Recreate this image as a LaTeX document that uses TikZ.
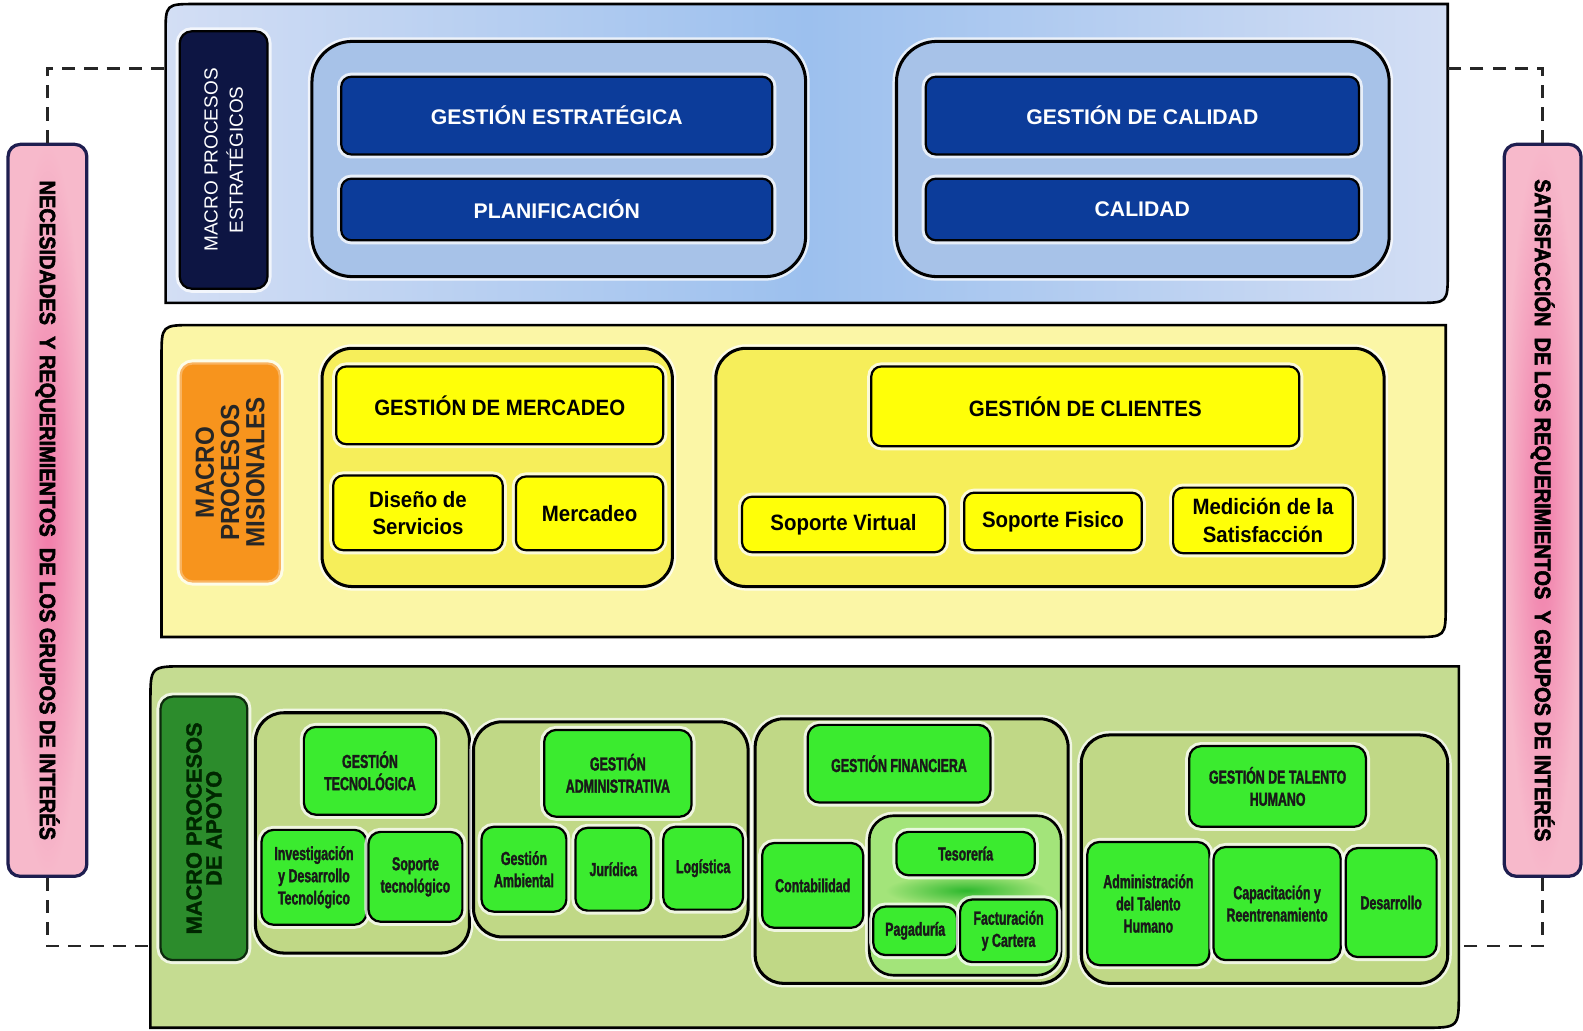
\documentclass[tikz,border=0pt]{standalone}
\usepackage{fontspec}
\setmainfont{Liberation Sans}
\newfontfamily\anchafont[FakeStretch=0.92]{Liberation Sans}
\newfontfamily\estrechafont[FakeStretch=0.66,BoldFeatures={FakeBold=1.6}]{Liberation Sans}
\newfontfamily\ladofont[FakeStretch=0.9,BoldFeatures={FakeBold=2.5}]{Liberation Sans}
\newfontfamily\apoyofont[BoldFeatures={FakeBold=1.5}]{Liberation Sans}

\definecolor{azulclaro}{HTML}{D3DEF4}
\definecolor{azulmedio}{HTML}{9CC0EE}
\definecolor{azulgrupo}{HTML}{A7C2E8}
\definecolor{azulcaja}{HTML}{0C3C9A}
\definecolor{azulnoche}{HTML}{0D1543}
\definecolor{amarillofondo}{HTML}{FBF6A6}
\definecolor{amarillogrupo}{HTML}{F6EE5A}
\definecolor{amarillocaja}{HTML}{FFFF08}
\definecolor{naranja}{HTML}{F7941D}
\definecolor{verdefondo}{HTML}{C5DC91}
\definecolor{verdegrupo}{HTML}{C0D886}
\definecolor{verdecaja}{HTML}{3BEB2F}
\definecolor{verdesub}{HTML}{A3E47A}
\definecolor{verdeglow}{HTML}{2DB82D}
\definecolor{verdeoscuro}{HTML}{2C8C2C}
\definecolor{rosaclaro}{HTML}{F7B9CB}
\definecolor{rosafuerte}{HTML}{F07AA8}
\definecolor{bordelado}{HTML}{1E1E50}

\begin{document}
\begin{tikzpicture}
[x=0.5pt,y=-0.5pt,
halo/.style={preaction={draw=white,line width=4pt,draw opacity=0.75}},
banda/.style={draw=black,line width=1.3pt},
grupo/.style={draw=black,line width=1.5pt,rounded corners=15pt,inner sep=0pt,halo},
caja/.style={draw=black,line width=1.1pt,rounded corners=5pt,inner sep=0pt,align=center,halo},
cajaazul/.style={caja,fill=azulcaja,text=white,font=\bfseries\fontsize{10.5}{12}\selectfont},
cajaamarilla/.style={caja,fill=amarillocaja,font=\anchafont\bfseries\fontsize{11}{13.5}\selectfont},
cajaverde/.style={caja,fill=verdecaja,rounded corners=6pt,text=black!90,font=\estrechafont\bfseries\fontsize{9.3}{11}\selectfont},
lado/.style={draw=bordelado,line width=1.6pt,rounded corners=6pt,inner sep=0pt,shading=radial,inner color=rosafuerte,outer color=rosaclaro},
ladotexto/.style={rotate=-90,font=\ladofont\bfseries\fontsize{11}{13}\selectfont,text=black},
guia/.style={draw=black!85,line width=1.3pt,dash pattern=on 6.5pt off 4.5pt}]
\useasboundingbox (0,0) rectangle (1568,1021);

% franjas
\draw[banda,left color=azulclaro,right color=azulclaro,middle color=azulmedio]
  (164,300) -- (164,34) .. controls (164,4) .. (194,4) -- (1434,4) -- (1434,270) .. controls (1434,300) .. (1404,300) -- cycle;
\draw[banda,fill=amarillofondo]
  (160,631) -- (160,354) .. controls (160,322) .. (192,322) -- (1432,322) -- (1432,599) .. controls (1432,631) .. (1400,631) -- cycle;
\draw[banda,fill=verdefondo]
  (149,1018) -- (149,695) .. controls (149,660) .. (184,660) -- (1445,660) -- (1445,983) .. controls (1445,1018) .. (1410,1018) -- cycle;
\coordinate (azulizq) at (164,68);
\coordinate (azulder) at (1434,68);
\coordinate (verdeizq) at (149,937);
\coordinate (verdeder) at (1445,937);

% estrategicos
\node[caja,fill=azulnoche,rounded corners=6pt,minimum width=43.5pt,minimum height=127.5pt] (me) at (221.5,158.5) {};
\node[rotate=90,text=white,align=center,font=\fontsize{9.4}{12.5}\selectfont] at (me) {MACRO PROCESOS\\ESTRATÉGICOS};
\node[grupo,fill=azulgrupo,rounded corners=20pt,minimum width=244.5pt,minimum height=116.5pt] (gizq) at (553.5,157.5) {};
\node[grupo,fill=azulgrupo,rounded corners=20pt,minimum width=244pt,minimum height=116.5pt] (gder) at (1132,157.5) {};
\node[cajaazul,minimum width=213.5pt,minimum height=38.5pt] (ge) at (551.5,114.5) {GESTIÓN ESTRATÉGICA};
\node[cajaazul,minimum width=213.5pt,minimum height=30.5pt] (plan) at (551.5,207.5) {PLANIFICACIÓN};
\node[cajaazul,minimum width=214.5pt,minimum height=38.5pt] (gc) at (1131.5,114.5) {GESTIÓN DE CALIDAD};
\node[cajaazul,minimum width=214.5pt,minimum height=30.5pt] (cal) at (1131.5,207.5) {CALIDAD};

% misionales
\node[caja,draw=naranja!70!white,fill=naranja,rounded corners=6pt,minimum width=49pt,minimum height=108pt] (mm) at (228,468) {};
\node[rotate=90,align=center,text=black!85,font=\anchafont\bfseries\fontsize{13}{12.5}\selectfont] at (mm) {MACRO\\PROCESOS\\MISIONALES};
\node[grupo,fill=amarillogrupo,minimum width=173.5pt,minimum height=118pt] (gmer) at (492.5,463) {};
\node[grupo,fill=amarillogrupo,minimum width=331pt,minimum height=118pt] (gcli) at (1040,463) {};
\node[cajaamarilla,minimum width=162pt,minimum height=38.5pt] (gm) at (495,401.5) {GESTIÓN DE MERCADEO};
\node[cajaamarilla,minimum width=84pt,minimum height=37pt] (dis) at (414,508) {Diseño de\\Servicios};
\node[cajaamarilla,minimum width=73pt,minimum height=36.5pt] (mer) at (584,508.5) {Mercadeo};
\node[cajaamarilla,minimum width=212pt,minimum height=39.5pt] (gcl) at (1075,402.5) {GESTIÓN DE CLIENTES};
\node[cajaamarilla,minimum width=100.5pt,minimum height=27.5pt] (sv) at (835.5,519.5) {Soporte Virtual};
\node[cajaamarilla,minimum width=88pt,minimum height=28.5pt] (sf) at (1043,516.5) {Soporte Fisico};
\node[cajaamarilla,minimum width=89pt,minimum height=32.5pt] (med) at (1251,515.5) {Medición de la\\Satisfacción};

% apoyo
\node[caja,fill=verdeoscuro,draw=black!70!verdeoscuro,rounded corners=6pt,minimum width=43pt,minimum height=130.5pt] (ma) at (202,820.5) {};
\node[rotate=90,align=center,text=black!85!green,font=\apoyofont\bfseries\fontsize{10.8}{9.8}\selectfont] at (ma) {MACRO PROCESOS\\DE APOYO};
\node[grupo,fill=verdegrupo,rounded corners=14pt,minimum width=106pt,minimum height=119pt] (gtec) at (359,825) {};
\node[grupo,fill=verdegrupo,rounded corners=14pt,minimum width=136pt,minimum height=106.5pt] (gadm) at (605,821.5) {};
\node[grupo,fill=verdegrupo,rounded corners=14pt,minimum width=155pt,minimum height=131pt] (gfin) at (903,843) {};
\node[grupo,fill=verdegrupo,rounded corners=14pt,minimum width=181.5pt,minimum height=123pt] (gtal) at (1252.5,851) {};
\node[cajaverde,minimum width=65.5pt,minimum height=43.5pt] (gt) at (366.5,763.5) {GESTIÓN\\TECNOLÓGICA};
\node[cajaverde,minimum width=52pt,minimum height=47pt] (inv) at (311,869) {Investigación\\y Desarrollo\\Tecnológico};
\node[cajaverde,minimum width=46.5pt,minimum height=44.5pt] (stec) at (411.5,868.5) {Soporte\\tecnológico};
\node[cajaverde,minimum width=73pt,minimum height=43pt] (gad) at (612,766) {GESTIÓN\\ADMINISTRATIVA};
\node[cajaverde,minimum width=42pt,minimum height=42pt] (amb) at (519,861) {Gestión\\Ambiental};
\node[cajaverde,minimum width=37.5pt,minimum height=41pt] (jur) at (607.5,861) {Jurídica};
\node[cajaverde,minimum width=39.5pt,minimum height=41pt] (log) at (696.5,860) {Logística};
\node[cajaverde,minimum width=90.5pt,minimum height=38.5pt] (gf) at (890.5,756.5) {GESTIÓN FINANCIERA};
\node[cajaverde,minimum width=50pt,minimum height=42pt] (cont) at (805,877) {Contabilidad};
\node[grupo,fill=verdesub,line width=1.3pt,rounded corners=12pt,minimum width=95pt,minimum height=79pt] (gtes) at (956,887) {};
\shade[inner color=verdeglow,outer color=verdesub] (957,882) ellipse [x radius=40pt,y radius=8pt];
\node[cajaverde,minimum width=68.5pt,minimum height=21.5pt] (tes) at (956.5,845.5) {Tesorería};
\node[cajaverde,minimum width=41.5pt,minimum height=24pt] (pag) at (906.5,922) {Pagaduría};
\node[cajaverde,minimum width=48pt,minimum height=31pt] (fac) at (999,922) {Facturación\\y Cartera};
\node[cajaverde,minimum width=87.5pt,minimum height=40pt] (gth) at (1265.5,779) {GESTIÓN DE TALENTO\\HUMANO};
\node[cajaverde,minimum width=60.5pt,minimum height=61pt] (adm) at (1137.5,895) {Administración\\del Talento\\Humano};
\node[cajaverde,minimum width=63pt,minimum height=56pt] (cap) at (1265,895) {Capacitación y\\Reentrenamiento};
\node[cajaverde,minimum width=45pt,minimum height=54pt] (des) at (1378,894) {Desarrollo};

% columnas laterales
\node[lado,minimum width=39pt,minimum height=362.5pt] (izq) at (47,505.5) {};
\node[ladotexto] at (izq) {NECESIDADES\ \ Y REQUERIMIENTOS\ \ DE LOS GRUPOS DE INTERÉS};
\node[lado,minimum width=38pt,minimum height=362.5pt] (der) at (1528,505.5) {};
\node[ladotexto] at (der) {SATISFACCIÓN\ \ DE LOS REQUERIMIENTOS\ \ Y GRUPOS DE INTERÉS};

\draw[guia] (izq.north) |- (azulizq);
\draw[guia] (izq.south) |- (verdeizq);
\draw[guia] (der.north) |- (azulder);
\draw[guia] (der.south) |- (verdeder);
\end{tikzpicture}
\end{document}
